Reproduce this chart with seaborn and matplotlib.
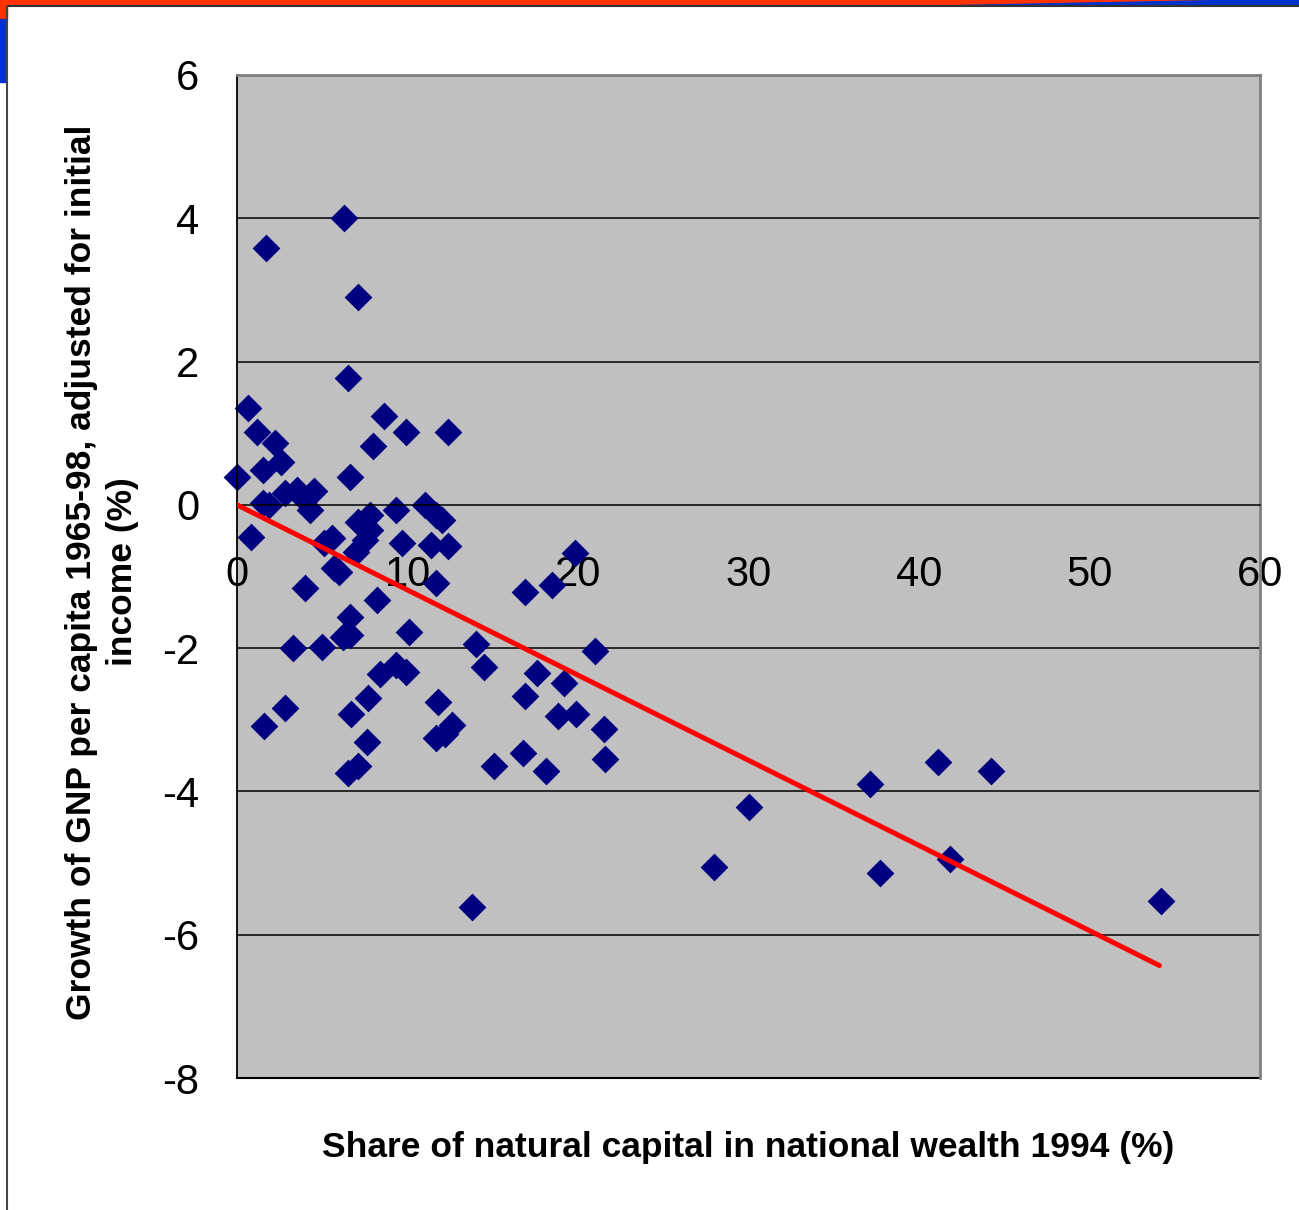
import matplotlib
matplotlib.use("Agg")
import matplotlib.pyplot as plt
import pandas as pd
import seaborn as sns
from matplotlib.patches import Rectangle, Polygon

# --- data ---
share = [0.0, 0.65, 1.2, 1.7, 1.5, 2.2, 2.6, 0.8, 1.5, 1.9,
         2.8, 3.5, 3.9, 4.3, 4.5, 4.0, 3.3, 5.0, 2.8, 1.6,
         6.3, 7.1, 6.5, 6.6, 8.6, 8.0, 9.9, 12.4, 5.1, 5.6,
         5.7, 6.0, 7.1, 7.8, 7.5, 7.8, 7.0, 9.3, 9.7, 11.0,
         11.7, 12.0, 11.4, 12.4, 11.7, 8.2, 6.6, 6.2, 6.6, 10.1,
         8.4, 9.3, 9.9, 7.7, 6.7, 7.6, 6.5, 7.1, 11.8, 11.7,
         12.2, 12.6, 14.0, 14.5, 13.8, 15.1, 16.9, 18.5, 19.8, 16.9,
         17.6, 19.2, 18.8, 19.9, 16.8, 18.1, 21.0, 21.5, 21.6, 28.0,
         30.0, 37.1, 37.7, 41.1, 41.8, 44.2, 54.2]
growth = [0.39, 1.35, 1.02, 3.59, 0.49, 0.87, 0.6, -0.45, 0.03, 0.0,
          0.17, 0.21, 0.1, -0.07, 0.2, -1.16, -2.0, -1.98, -2.83, -3.08,
          4.0, 2.9, 1.77, 0.39, 1.24, 0.82, 1.02, 1.02, -0.53, -0.46,
          -0.88, -0.94, -0.24, -0.14, -0.49, -0.35, -0.66, -0.07, -0.53, 0.0,
          -0.14, -0.21, -0.56, -0.57, -1.09, -1.33, -1.56, -1.84, -1.81, -1.77,
          -2.36, -2.23, -2.33, -2.69, -2.92, -3.31, -3.74, -3.64, -2.75, -3.25,
          -3.2, -3.07, -1.94, -2.26, -5.61, -3.64, -1.21, -1.12, -0.67, -2.67,
          -2.35, -2.48, -2.95, -2.92, -3.46, -3.71, -2.04, -3.13, -3.55, -5.05,
          -4.22, -3.89, -5.14, -3.59, -4.94, -3.71, -5.53]
trend_x = [0, 54.1]
trend_y = [0, -6.43]
xticks = [0, 10, 20, 30, 40, 50, 60]
yticks = [-8, -6, -4, -2, 0, 2, 4, 6]

df = pd.DataFrame({"share": share, "growth": growth})

sns.set_style("white")
plt.rcParams['font.family'] = ['Liberation Sans', 'DejaVu Sans']
plt.rcParams['axes.unicode_minus'] = False
plt.rcParams['text.color'] = 'black'

W, H = 1299, 1210
fig = plt.figure(figsize=(W / 100, H / 100), dpi=100)


def px(x0, y0, w, h):
    # pixel box (top-left origin) -> figure fraction rect
    return (x0 / W, 1 - (y0 + h) / H), w / W, h / H


# slide decoration: orange/blue header strip and frame line
for (x0, y0, w, h), c in [((0, 0, W, 5), '#FF3300'),
                          ((0, 0, 7, 19), '#FF3300'),
                          ((0, 19, 6, 63), '#0033CC')]:
    xy, fw, fh = px(x0, y0, w, h)
    fig.patches.append(Rectangle(xy, fw, fh, transform=fig.transFigure,
                                 color=c, zorder=0))
fig.patches.append(Polygon([(960 / W, 1 - 5 / H), (W / W, 1 - 5 / H),
                            (W / W, 1.0), (1220 / W, 1.0)],
                           closed=True, transform=fig.transFigure,
                           color='#0033CC', zorder=0))
fig.add_artist(plt.Line2D([7 / W, W / W], [1 - 5.5 / H] * 2, color='#333333', lw=1.5))
fig.add_artist(plt.Line2D([7 / W, 7 / W], [0, 1 - 5.5 / H], color='#444444', lw=1.5))

ax = fig.add_axes([237 / W, 1 - 1078 / H, (1260 - 237) / W, (1078 - 75) / H])
ax.set_facecolor('#C0C0C0')

for y in yticks:
    if y not in (0, 6, -8):
        ax.axhline(y, color='black', lw=1.1, zorder=1)
ax.axhline(-8, color='black', lw=1.5, zorder=1, clip_on=False)

sns.scatterplot(data=df, x="share", y="growth", marker='D', s=200,
                color='#000080', edgecolor='#000080', linewidth=0,
                ax=ax, zorder=2, clip_on=False)
ax.plot(trend_x, trend_y, color='#FF0000', lw=3.6, zorder=3,
        solid_capstyle='round')

ax.set_xlim(0, 60)
ax.set_ylim(-8, 6)
ax.set_xticks(xticks)
ax.set_yticks(yticks)
ax.set_xlabel('')
ax.set_ylabel('')

ax.spines['bottom'].set_position(('data', 0))
ax.spines['bottom'].set_color('black')
ax.spines['bottom'].set_linewidth(1.1)
ax.spines['left'].set_color('black')
ax.spines['left'].set_linewidth(1.3)
for s in ('top', 'right'):
    ax.spines[s].set_color('#808080')
    ax.spines[s].set_linewidth(2)

ax.tick_params(axis='both', direction='out', length=12, width=1.1,
               color='black', labelsize=30, labelcolor='black')
ax.tick_params(axis='x', pad=24)
ax.tick_params(axis='y', pad=15)
for lab in ax.get_xticklabels():
    lab.set_zorder(4)

fig.text(102 / W, 1 - 572 / H,
         'Growth of GNP per capita 1965-98, adjusted for initial\nincome (%)',
         rotation=90, ha='center', va='center', multialignment='center',
         fontsize=25.5, fontweight='bold', linespacing=1.3, color='black')
fig.text(748 / W, 1 - 1147 / H,
         'Share of natural capital in national wealth 1994 (%)',
         ha='center', va='center', fontsize=25.5, fontweight='bold',
         color='black')

fig.savefig('out.png', dpi=100, facecolor='white')
